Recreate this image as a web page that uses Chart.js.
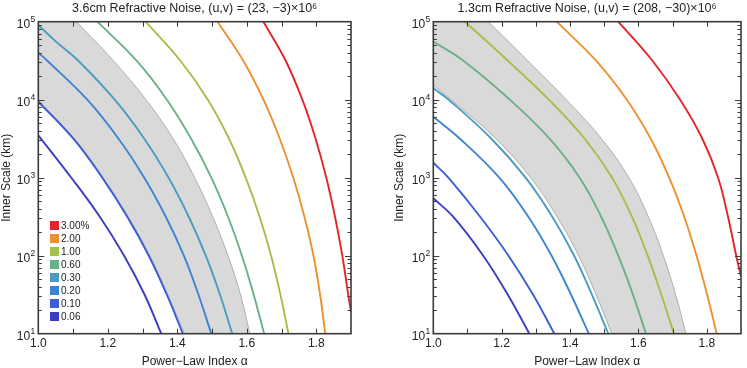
<!DOCTYPE html>
<html>
<head>
<meta charset="utf-8">
<script src="https://cdn.jsdelivr.net/npm/chart.js@4.4.1/dist/chart.umd.min.js"></script>
<style>
  body { margin: 0; background: #fff; }
  #wrap { position: relative; width: 747px; height: 368px; }
  canvas { position: absolute; top: 0; }
  #legend { position: absolute; left: 50px; top: 219px; font: 10px "Liberation Sans", Arial, sans-serif; color: #222; }
  #legend div { height: 13px; display: flex; align-items: center; }
  #legend span.sw { display: inline-block; width: 9px; height: 9px; margin-right: 2px; }
</style>
</head>
<body>
<div id="wrap">
  <canvas id="left" width="373" height="368" style="left:0"></canvas>
  <canvas id="right" width="374" height="368" style="left:373px"></canvas>
  <div id="legend"></div>
</div>
<script>
// contour levels (refractive noise, %) and their colours
const levels = ['3.00%', '2.00', '1.00', '0.60', '0.30', '0.20', '0.10', '0.06'];
const levelColors = ['#e3252b', '#ee8f30', '#a4bf4a', '#6cb088', '#4b9cc0', '#3f84d4', '#3d5dd6', '#3b3cc4'];

// axis ranges
const alphaMin = 1.0, alphaMax = 1.9;
const scaleMin = 10, scaleMax = 1e5;

// 3.6cm panel, points are [power-law index, inner scale km]
const k36_300 = [[1.648,1e5],[1.712,3.16e4],[1.760,1e4],[1.798,3160],[1.829,1000],[1.854,316],[1.875,100],[1.892,31.6],[1.900,19]];
const k36_200 = [[1.516,1e5],[1.590,3.16e4],[1.648,1e4],[1.695,3160],[1.734,1000],[1.766,316],[1.792,100],[1.811,31.6],[1.826,10]];
const k36_100 = [[1.309,1e5],[1.409,3.16e4],[1.488,1e4],[1.549,3160],[1.597,1000],[1.637,316],[1.670,100],[1.697,31.6],[1.720,10]];
const k36_060 = [[1.170,1e5],[1.283,3.16e4],[1.370,1e4],[1.440,3160],[1.498,1000],[1.546,316],[1.586,100],[1.620,31.6],[1.650,10]];
const k36_030 = [[1.000,9.1e4],[1.050,5.6e4],[1.115,3.16e4],[1.220,1e4],[1.305,3160],[1.375,1000],[1.433,316],[1.482,100],[1.523,31.6],[1.558,10]];
const k36_020 = [[1.000,4.0e4],[1.026,3.16e4],[1.141,1e4],[1.231,3160],[1.305,1000],[1.367,316],[1.419,100],[1.461,31.6],[1.498,10]];
const k36_010 = [[1.000,9500],[1.101,3160],[1.184,1000],[1.256,316],[1.318,100],[1.370,31.6],[1.416,10]];
const k36_006 = [[1.000,3500],[1.095,1000],[1.177,316],[1.247,100],[1.306,31.6],[1.354,10]];
const band36_hi = [[1.110,1e5],[1.216,3.16e4],[1.310,1e4],[1.388,3160],[1.450,1000],[1.502,316],[1.546,100],[1.582,31.6],[1.609,10]];
const band36_lo = [[1.000,9000],[1.104,3160],[1.187,1000],[1.259,316],[1.321,100],[1.373,31.6],[1.421,10]];

// 1.3cm panel
const k13_300 = [[1.541,1e5],[1.641,3.16e4],[1.722,1e4],[1.787,3160],[1.833,1000],[1.862,316],[1.886,100],[1.900,54]];
const k13_200 = [[1.361,1e5],[1.476,3.16e4],[1.566,1e4],[1.636,3160],[1.690,1000],[1.734,316],[1.770,100],[1.801,31.6],[1.829,10]];
const k13_100 = [[1.093,1e5],[1.218,3.16e4],[1.338,1e4],[1.443,3160],[1.523,1000],[1.581,316],[1.627,100],[1.667,31.6],[1.704,10]];
const k13_060 = [[1.000,5.55e4],[1.088,3.16e4],[1.224,1e4],[1.340,3160],[1.428,1000],[1.491,316],[1.541,100],[1.584,31.6],[1.622,10]];
const k13_030 = [[1.000,1.4e4],[1.045,1e4],[1.170,3160],[1.270,1000],[1.348,316],[1.412,100],[1.464,31.6],[1.512,10]];
const k13_020 = [[1.000,6050],[1.078,3160],[1.193,1000],[1.278,316],[1.346,100],[1.403,31.6],[1.455,10]];
const k13_010 = [[1.000,1560],[1.044,1000],[1.137,316],[1.220,100],[1.292,31.6],[1.354,10]];
const k13_006 = [[1.000,545],[1.058,316],[1.146,100],[1.218,31.6],[1.281,10]];
const band13_hi = [[1.161,1e5],[1.276,3.16e4],[1.389,1e4],[1.492,3160],[1.572,1000],[1.629,316],[1.673,100],[1.709,31.6],[1.739,10]];
const band13_lo = [[1.000,1.54e4],[1.052,1e4],[1.183,3160],[1.285,1000],[1.362,316],[1.425,100],[1.476,31.6],[1.522,10]];

const FONT = '"Liberation Sans", Arial, sans-serif';
const TEXT = '#222';
const bandGray = '#d9d9d9';
const bandEdge = '#a0a0a0';
const smooth = { tension: 0.4, capBezierPoints: false };

const toXY = arr => arr.map(([x, y]) => ({x, y}));

// frame, inward ticks on all sides and 10^n labels
const frameTicks = {
  id: 'frameTicks',
  afterDraw(chart) {
    const {ctx, chartArea: a, scales: {x, y}} = chart;
    ctx.save();
    ctx.strokeStyle = '#3a3a3a';
    ctx.lineWidth = 1;
    const seg = (x1, y1, x2, y2) => { ctx.beginPath(); ctx.moveTo(x1, y1); ctx.lineTo(x2, y2); ctx.stroke(); };
    for (let i = 1; i < 9; i++) {
      const px = Math.round(x.getPixelForValue(alphaMin + i * 0.1)) + 0.5;
      seg(px, a.bottom, px, a.bottom - 5);
      seg(px, a.top, px, a.top + 5);
    }
    for (let e = 1; e < 5; e++) {
      for (let m = 1; m < 10; m++) {
        const v = m * Math.pow(10, e);
        if (v <= scaleMin) continue;
        const py = Math.round(y.getPixelForValue(v)) + 0.5;
        const len = m === 1 ? 6 : 3.5;
        seg(a.left, py, a.left + len, py);
        seg(a.right, py, a.right - len, py);
      }
    }
    ctx.lineWidth = 1.6;
    ctx.strokeRect(a.left, a.top, a.right - a.left, a.bottom - a.top);

    ctx.fillStyle = TEXT;
    ctx.textAlign = 'right';
    ctx.textBaseline = 'alphabetic';
    for (let e = 1; e <= 5; e++) {
      const py = y.getPixelForValue(Math.pow(10, e));
      const right = a.left - 3;
      ctx.font = '8.5px ' + FONT;
      const ew = ctx.measureText(String(e)).width;
      ctx.fillText(String(e), right, py + 0.5);
      ctx.font = '12px ' + FONT;
      ctx.fillText('10', right - ew - 0.5, py + 6);
    }
    ctx.restore();
  }
};

function buildPanel(id, title, curves, hi, lo, yWidth, padRight, yTitlePad) {
  const datasets = curves.map((c, i) => ({
    label: levels[i],
    data: toXY(c),
    borderColor: levelColors[i],
    borderWidth: 1.9,
    pointRadius: 0,
    fill: false,
    ...smooth
  }));
  datasets.push({
    label: 'band lower', data: toXY(lo), borderColor: bandEdge, borderWidth: 0.8,
    backgroundColor: '#ffffff', fill: 'start', pointRadius: 0, ...smooth
  });
  datasets.push({
    label: 'band upper', data: toXY(hi), borderColor: bandEdge, borderWidth: 0.8,
    backgroundColor: bandGray, fill: 'start', pointRadius: 0, ...smooth
  });
  // top-left corner of the band, up to the frame, overlapping the upper edge's first span
  datasets.push({
    label: 'band corner',
    data: [{x: alphaMin, y: scaleMax}].concat(toXY(hi.slice(0, 2))),
    borderWidth: 0, backgroundColor: bandGray, fill: 'start', pointRadius: 0, tension: 0
  });

  new Chart(document.getElementById(id), {
    type: 'line',
    data: { datasets },
    options: {
      responsive: false,
      animation: false,
      devicePixelRatio: 1,
      layout: { padding: { left: 0, right: padRight, top: 0, bottom: 0 } },
      scales: {
        x: {
          type: 'linear', min: alphaMin, max: alphaMax,
          grid: { display: false, drawTicks: false },
          border: { display: false },
          ticks: {
            stepSize: 0.2, includeBounds: false, padding: 3, maxRotation: 0, autoSkip: false,
            color: TEXT, font: { family: FONT, size: 12 },
            callback: v => v.toFixed(1)
          },
          title: {
            display: true, text: 'Power\u2212Law Index \u03b1', color: TEXT,
            font: { family: FONT, size: 12, lineHeight: 1 }, padding: { top: 0, bottom: 0 }
          },
          afterFit: s => { s.height = 34.3; }
        },
        y: {
          type: 'logarithmic', min: scaleMin, max: scaleMax,
          grid: { display: false, drawTicks: false },
          border: { display: false },
          ticks: { display: false },
          title: {
            display: true, text: 'Inner Scale (km)', color: TEXT,
            font: { family: FONT, size: 12, lineHeight: 1 }, padding: { top: yTitlePad, bottom: 0 }
          },
          afterFit: s => { s.width = yWidth; }
        }
      },
      plugins: {
        legend: { display: false },
        tooltip: { enabled: false },
        filler: { drawTime: 'beforeDatasetsDraw' },
        title: {
          display: true, text: title, fullSize: false, color: TEXT,
          font: { family: FONT, size: 12.5, weight: 'normal' },
          padding: { top: 1, bottom: 5.7 }
        }
      }
    },
    plugins: [frameTicks]
  });
}

buildPanel('left', '3.6cm Refractive Noise, (u,v) = (23, \u22123)\u00d710\u2076',
  [k36_300, k36_200, k36_100, k36_060, k36_030, k36_020, k36_010, k36_006],
  band36_hi, band36_lo, 38.3, 22, 0.7);

buildPanel('right', '1.3cm Refractive Noise, (u,v) = (208, \u221230)\u00d710\u2076',
  [k13_300, k13_200, k13_100, k13_060, k13_030, k13_020, k13_010, k13_006],
  band13_hi, band13_lo, 60.3, 6, 21);

// legend inside the left panel
const legend = document.getElementById('legend');
levels.forEach((lab, i) => {
  const row = document.createElement('div');
  const sw = document.createElement('span');
  sw.className = 'sw';
  sw.style.background = levelColors[i];
  row.appendChild(sw);
  row.appendChild(document.createTextNode(lab));
  legend.appendChild(row);
});
</script>
</body>
</html>
